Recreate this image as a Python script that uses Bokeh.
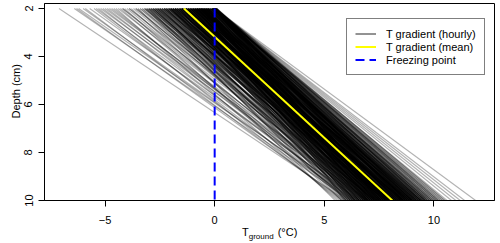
import math
from bokeh.plotting import figure
from bokeh.layouts import column
from bokeh.models import Range1d, FixedTicker, Legend, LegendItem, Title, Div
from bokeh.embed import file_html
from bokeh.resources import INLINE

# ---------------- data ----------------
depth_top = 2      # cm
depth_bottom = 10  # cm

# hourly temperature at 2 cm and at 10 cm (°C), one pair per hourly gradient line
t_2cm = [
    # very cold starts
    -7.1, -6.4, -6.3, -6.2, -6.0, -5.9, -5.7, -5.5, -5.4, -5.3, -5.2, -5.1, -5.0, -4.9, -4.8, -4.7,
    # cold starts
    -4.6, -4.5, -4.4, -4.3, -4.2, -4.1, -4.0, -3.9, -3.8, -3.7,
    -3.6, -3.5, -3.5, -3.4, -3.3, -3.3, -3.2, -3.1, -3.1, -3.0,
    -3.0, -2.9, -2.9, -2.8, -2.8, -2.8, -2.7, -2.7, -2.6, -2.6,
    -2.6, -2.5, -2.5, -2.5, -3.6, -3.4, -4.2, -3.9, -3.2, -2.7,
    # moderate starts
    -2.4, -2.4, -2.3, -2.3, -2.3, -2.2, -2.2, -2.2, -2.1, -2.1,
    -2.1, -2.0, -2.0, -2.0, -2.0, -1.9, -1.9, -1.9, -1.9, -1.8,
    -1.8, -1.8, -1.8, -1.7, -1.7, -1.7, -1.7, -1.6, -1.6, -1.6,
    -1.6, -1.5, -1.5, -1.5, -1.5, -1.4, -1.4, -1.4, -1.4, -1.3,
    -1.3, -1.3, -1.3, -1.2, -1.2, -1.2, -1.2, -1.1, -1.1, -1.1,
    -1.1, -1.0, -1.0, -1.0, -2.4, -2.2, -2.0, -1.8, -1.6, -1.4,
    -1.2, -1.0, -2.3, -2.1, -1.9, -1.7, -1.5, -1.3, -1.1, -2.05,
    # near-freezing starts
    -0.95, -0.9, -0.9, -0.85, -0.8, -0.8, -0.75, -0.7, -0.7, -0.65,
    -0.6, -0.6, -0.55, -0.5, -0.5, -0.45, -0.4, -0.4, -0.35, -0.3,
    -0.3, -0.25, -0.2, -0.2, -0.9, -0.8, -0.7, -0.6, -0.5, -0.4,
    -0.3, -0.2, -0.85, -0.75, -0.65, -0.55, -0.45, -0.35, -0.25, -0.95,
    -0.9, -0.8, -0.7, -0.6, -0.5, -0.4, -0.3, -0.2, -0.6, -0.5,
    -0.4, -0.7, -0.8, -0.3, -0.55, -0.65, -0.45, -0.35, -0.75, -0.25,
    # starts at the freezing point (fan)
    -0.15, -0.1, -0.1, -0.05, -0.05, 0.0, 0.0, 0.0, 0.0, 0.05,
    0.05, 0.1, -0.15, -0.1, -0.05, 0.0, 0.0, 0.05, 0.1, -0.1,
    -0.05, 0.0, 0.0, 0.0, 0.05, -0.15, -0.1, -0.05, 0.0, 0.05,
    -0.1, 0.0, 0.0, 0.05, -0.05, 0.0, 0.1, -0.1, 0.0, 0.0,
    0.0, -0.05, 0.05, 0.0, -0.1, 0.0, 0.0, 0.05, -0.05, 0.0,
    # core of the band
    -2.0, -1.9, -1.8, -1.7, -1.6, -1.5, -1.4, -1.3, -1.2, -1.1,
    -1.0, -0.9, -0.8, -0.7, -0.6, -0.5, -0.4, -0.3, -0.2, -0.1,
    -1.95, -1.85, -1.75, -1.65, -1.55, -1.45, -1.35, -1.25, -1.15, -1.05,
    -0.95, -0.85, -0.75, -0.65, -0.55, -0.45, -0.35, -0.25, -0.15, -0.05,
    -1.5, -1.2, -0.9, -0.6, -0.3, -1.8, -1.4, -1.0, -0.7, -0.4,
    -0.1, -1.7, -1.3, -0.8, -0.5, -0.2, -1.6, -1.1, -0.6, 0.0,
    -1.9, -1.5, -1.2, -0.9, -0.6, -0.3, -0.1, -1.4, -1.0, -0.5,
    -1.8, -1.3, -0.8, -0.4, 0.0, -1.6, -1.1, -0.7, -0.3, -0.05,
    -1.7, -1.2, -0.9, -0.5, -0.2, -1.5, -1.0, -0.6, -0.25, 0.0,
    -1.3, -0.8, -0.45, -0.15, -1.1, -0.7, -0.35, -0.1, -0.55, -0.85,
    # cooler part of the band
    -3.2, -3.1, -3.0, -2.9, -2.8, -2.7, -2.6, -2.5, -2.4, -2.3,
    -2.2, -2.1, -2.0, -1.9, -1.8, -3.15, -2.95, -2.75, -2.55, -2.35,
    -2.15, -1.95, -3.05, -2.85, -2.65, -2.45, -2.25, -2.05, -1.85, -2.7,
    -2.5, -2.3, -2.1, -2.9, -2.4, -2.2, -2.6, -2.0, -2.8, -3.0,
    # more starts at the freezing point
    0.0, -0.05, 0.05, 0.0, -0.1, 0.0, 0.05, 0.0, -0.05, 0.1,
    0.0, 0.0, -0.05, 0.05, 0.0, -0.1, 0.0, 0.05, 0.0, 0.0,
    -0.05, 0.0, 0.1, 0.0, -0.05, 0.0, 0.05, 0.0, -0.1, 0.0,
    # mild starts ending mid-band (gentle gradients)
    -1.6, -1.5, -1.4, -1.3, -1.2, -1.1, -1.0, -0.9, -0.8, -0.7,
    -0.6, -0.5, -0.4, -0.3, -1.55, -1.45, -1.35, -1.25, -1.15, -1.05,
    -0.95, -0.85, -0.75, -0.65, -0.55, -0.45, -0.35, -1.5, -1.3, -1.1,
    -0.9, -0.7, -0.5, -0.3, -1.4, -1.2, -1.0, -0.8, -0.6, -0.4,
    -1.6, -1.35, -1.15, -0.95, -0.75, -0.55, -0.35, -1.45, -1.25, -1.05,
    -0.85, -0.65, -0.45, -1.5, -1.0, -0.6, -1.3, -0.8, -0.5, -1.1,
]
t_10cm = [
    6.0, 6.2, 5.9, 6.4, 6.3, 5.8, 6.6, 6.1, 6.5, 5.7, 6.8, 6.2, 6.9, 6.4, 7.0, 6.6,
    6.3, 5.6, 6.9, 6.1, 7.2, 5.8, 6.5, 7.4, 6.0, 6.8,
    7.1, 5.5, 6.4, 7.6, 6.2, 6.9, 7.3, 5.9, 6.7, 7.8,
    6.5, 7.0, 6.1, 7.5, 6.8, 6.3, 7.2, 7.9, 6.6, 7.4,
    6.0, 7.1, 6.9, 7.7, 7.3, 6.6, 6.7, 7.0, 8.0, 6.4,
    7.0, 6.2, 7.8, 6.7, 8.3, 7.3, 6.5, 8.0, 6.9, 7.6,
    8.6, 6.4, 7.2, 7.9, 8.8, 6.8, 7.5, 8.2, 6.1, 7.7,
    8.5, 7.0, 9.0, 6.6, 7.4, 8.1, 8.9, 7.1, 7.8, 6.3,
    8.4, 7.6, 8.7, 6.9, 9.2, 7.3, 8.0, 8.6, 7.5, 6.7,
    7.9, 8.3, 9.1, 7.2, 8.5, 6.8, 7.7, 8.0, 8.8, 7.4,
    9.3, 7.6, 8.2, 8.9, 7.5, 8.1, 6.6, 8.7, 7.0, 9.4,
    8.4, 7.8, 7.1, 8.3, 7.9, 8.6, 6.4, 9.0, 8.1, 7.3,
    7.6, 8.4, 7.1, 9.0, 7.9, 8.7, 7.4, 8.2, 9.3, 7.7,
    8.5, 7.2, 8.9, 8.0, 9.5, 7.5, 8.3, 9.1, 7.8, 8.6,
    9.7, 7.3, 8.1, 9.4, 8.8, 7.0, 9.2, 8.0, 7.4, 8.9,
    9.6, 7.8, 8.3, 9.0, 7.6, 8.5, 9.3, 8.1, 9.9, 7.9,
    8.6, 9.4, 8.2, 7.7, 9.1, 8.4, 9.0, 8.7, 9.8, 7.5,
    8.0, 9.6, 8.8, 7.2, 9.2, 8.3, 7.9, 10.0, 8.5, 9.4,
    7.4, 8.2, 9.0, 7.8, 8.6, 9.4, 7.1, 8.0, 8.9, 9.7,
    8.3, 10.2, 7.6, 8.8, 9.2, 8.5, 10.0, 7.9, 9.5, 8.4,
    9.1, 8.7, 7.3, 9.8, 10.5, 8.1, 9.6, 8.9, 10.8, 7.7,
    8.6, 9.3, 11.0, 10.1, 9.0, 11.4, 8.2, 9.9, 8.4, 11.9,
    9.5, 10.3, 8.8, 7.5, 10.6, 9.2, 8.0, 9.7, 10.4, 11.2,
    7.2, 8.5, 6.9, 7.8, 8.9, 7.4, 8.2, 9.1, 7.6, 8.4,
    8.8, 7.7, 9.3, 8.1, 8.6, 9.0, 7.9, 8.7, 9.4, 8.3,
    6.8, 7.9, 8.3, 7.1, 8.6, 7.7, 8.9, 7.3, 8.0, 9.2,
    7.5, 8.8, 8.1, 9.5, 7.8, 8.5, 9.1, 8.2, 9.6, 8.7,
    8.0, 7.5, 8.9, 8.3, 9.2, 6.7, 8.4, 7.9, 9.0, 8.6,
    9.3, 7.6, 8.1, 8.7, 7.8, 9.0, 7.2, 8.5, 9.4, 9.8,
    8.1, 7.0, 8.8, 7.6, 8.4, 9.1, 8.0, 7.8, 9.2, 8.9,
    7.4, 8.6, 7.9, 9.3, 8.5, 8.2, 7.5, 8.8, 8.3, 9.7,
    8.0, 8.9, 7.3, 8.7, 9.5, 7.9, 8.4, 9.0, 8.1, 10.1,
    8.5, 8.0, 9.2, 8.6, 7.7, 9.4, 8.3, 9.6, 7.9, 8.2,
    6.6, 7.3, 6.2, 7.8, 6.9, 7.5, 8.1, 6.4, 7.7, 8.4,
    7.0, 8.6, 7.4, 8.0, 8.8, 6.0, 7.1, 6.7, 7.9, 7.2,
    8.3, 7.6, 6.5, 7.4, 8.2, 6.8, 7.9, 8.5, 7.1, 6.3,
    7.6, 8.0, 7.3, 6.9, 8.7, 6.6, 7.8, 8.1, 7.0, 5.8,
    9.0, 9.6, 8.7, 10.2, 9.3, 8.5, 9.8, 10.4, 9.1, 9.5,
    8.8, 10.0, 9.4, 8.6, 9.9, 9.2, 10.5, 8.9, 9.7, 9.0,
    10.3, 8.7, 9.6, 9.1, 10.1, 8.8, 9.4, 9.9, 8.6, 10.2,
    6.1, 6.8, 6.4, 7.2, 6.6, 7.5, 6.9, 7.8, 7.1, 6.3,
    7.6, 7.0, 7.9, 6.7, 7.4, 8.0, 7.2, 6.5, 7.0, 6.2,
    7.3, 6.9, 7.7, 6.4, 7.1, 7.8, 6.6, 7.5, 7.2, 7.9,
    6.8, 7.6, 7.3, 5.9, 6.7, 7.4, 6.9, 7.7, 7.0, 7.8,
    6.3, 7.2, 6.6, 7.5, 7.1, 6.5, 7.7, 6.0, 7.0, 6.8,
    7.4, 7.9, 6.9, 7.3, 6.4, 7.6, 7.1, 6.2, 7.3, 8.0,
]
assert len(t_2cm) == len(t_10cm), (len(t_2cm), len(t_10cm))

mean_t2 = -1.4   # mean gradient, °C at 2 cm
mean_t10 = 8.1   # mean gradient, °C at 10 cm
freezing_t = 0.0

x_ticks = [-5, 0, 5, 10]
y_ticks = [2, 4, 6, 8, 10]

legend_labels = ["T gradient (hourly)", "T gradient (mean)", "Freezing point"]
y_title = "Depth (cm)"

FONT = "Liberation Sans"

# ---------------- figure ----------------
p = figure(width=500, height=226, output_backend="svg", toolbar_location=None,
           x_range=Range1d(-7.76, 12.76), y_range=Range1d(10, 1.79),
           min_border_left=44, min_border_right=6, min_border_top=3, min_border_bottom=26)
p.xgrid.visible = False
p.ygrid.visible = False
p.outline_line_color = "black"
p.outline_line_width = 1
p.background_fill_color = "white"
p.border_fill_color = "white"

xs = [[a, b] for a, b in zip(t_2cm, t_10cm)]
ys = [[depth_top, depth_bottom] for _ in t_2cm]
p.multi_line(xs=xs, ys=ys, line_color="black", line_alpha=0.3, line_width=1.1)

nan = float("nan")
r_hourly = p.line(x=[nan, nan], y=[nan, nan], line_color="black", line_alpha=0.85, line_width=1)
r_mean = p.line(x=[mean_t2, mean_t10], y=[depth_top, depth_bottom], line_color="#FFFF00", line_width=2)
r_freeze = p.line(x=[freezing_t, freezing_t], y=[depth_top, depth_bottom], line_color="#0000FF",
                  line_width=2, line_dash="9 5")

for ax in (p.xaxis[0], p.yaxis[0]):
    ax.axis_line_color = "black"
    ax.major_tick_line_color = "black"
    ax.major_tick_out = 6
    ax.major_tick_in = 0
    ax.minor_tick_line_color = None
    ax.major_label_text_font = FONT
    ax.major_label_text_font_size = "11px"
    ax.major_label_text_color = "black"

p.xaxis[0].ticker = FixedTicker(ticks=x_ticks)
p.yaxis[0].ticker = FixedTicker(ticks=y_ticks)
p.xaxis[0].major_label_standoff = 9
p.yaxis[0].major_label_standoff = 6
p.yaxis[0].major_label_orientation = "vertical"

p.add_layout(Title(text=y_title, align="left", offset=82, standoff=0,
                   text_font=FONT, text_font_size="11px", text_font_style="normal",
                   text_color="black"), "left")

legend = Legend(items=[LegendItem(label=legend_labels[0], renderers=[r_hourly]),
                       LegendItem(label=legend_labels[1], renderers=[r_mean]),
                       LegendItem(label=legend_labels[2], renderers=[r_freeze])],
                location=(302, 125), orientation="vertical",
                padding=8, margin=0, spacing=0,
                glyph_width=21, glyph_height=13, label_height=13, label_standoff=10,
                label_text_font=FONT, label_text_font_size="11px", label_text_color="black",
                border_line_color="black", border_line_width=1,
                background_fill_color="white", background_fill_alpha=1)
p.add_layout(legend, "center")

x_title = Div(
    text=('<span style="font-family:\'Liberation Sans\';font-size:11px;color:black;white-space:nowrap;">'
          'T<span style="font-size:8px;position:relative;top:3px;">ground</span>'
          '<span style="margin-left:4px;">(°C)</span></span>'),
    width=500, height=17,
    styles={"padding-left": "242px", "line-height": "13px", "margin": "0", "box-sizing": "border-box"})

layout = column(p, x_title, spacing=0)
open("out.html", "w").write(file_html(layout, INLINE))
